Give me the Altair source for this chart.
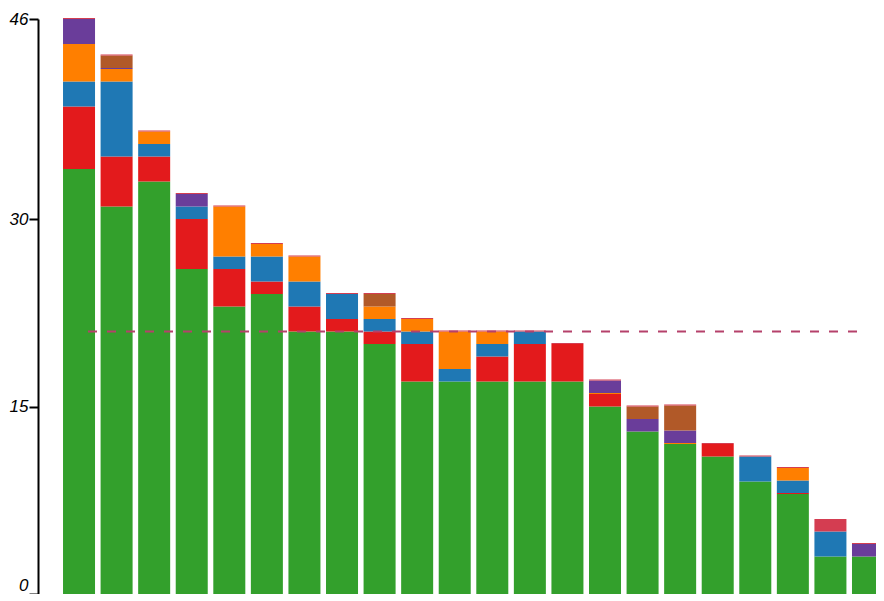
import altair as alt
import pandas as pd

categories = [str(i) for i in range(1, 23)]
series_names = ["green", "red", "blue", "orange", "purple", "brown", "crimson"]
series_colors = ["#33a02c", "#e31a1c", "#1f78b4", "#ff7f00", "#6a3d9a", "#b15928", "#d43d51"]

green = [34, 31, 33, 26, 23, 24, 21, 21, 20, 17, 17, 17, 17, 17, 15, 13, 12, 11, 9, 8, 3, 3]
red = [5, 4, 2, 4, 3, 1, 2, 1, 1, 3, 0, 2, 3, 3, 1, 0, 0, 1, 0, 0.08, 0, 0]
blue = [2, 6, 1, 1, 1, 2, 2, 2, 1, 1, 1, 1, 1, 0, 0, 0, 0, 0, 2, 1, 2, 0]
orange = [3, 1, 1, 0, 4, 1, 2, 0, 1, 1, 3, 1, 0, 0, 0.08, 0, 0.08, 0, 0, 1, 0, 0]
purple = [2, 0.08, 0, 1, 0, 0, 0, 0, 0, 0, 0, 0, 0, 0, 1, 1, 1, 0, 0, 0, 0, 1]
brown = [0, 1, 0, 0, 0, 0, 0, 0, 1, 0, 0, 0, 0, 0, 0, 1, 2, 0, 0, 0, 0, 0]
crimson = [0.08, 0.08, 0.08, 0.08, 0.08, 0.08, 0.08, 0.08, 0.08, 0.08, 0.08,
           0.08, 0.08, 0.08, 0.08, 0.08, 0.08, 0.08, 0.08, 0.08, 1, 0.08]

reference_value = [21]
y_ticks = [0, 15, 30, 46]

all_series = [green, red, blue, orange, purple, brown, crimson]
rows = []
for s_idx, (name, vals) in enumerate(zip(series_names, all_series)):
    for cat, v in zip(categories, vals):
        rows.append({"cat": cat, "series": name, "order": s_idx, "value": v})
df = pd.DataFrame(rows)

bars = alt.Chart(df).mark_bar().encode(
    x=alt.X("cat:N", sort=categories,
            scale=alt.Scale(paddingInner=0.148, paddingOuter=0.333, align=1,
                            range=[0, 846]),
            axis=None),
    y=alt.Y("value:Q", stack="zero",
            scale=alt.Scale(domain=[0, 46], nice=False),
            axis=alt.Axis(values=y_ticks, grid=False, title=None,
                          labelFont="Liberation Sans", labelFontSize=17,
                          labelFontStyle="italic", labelColor="black",
                          labelPadding=1, tickSize=9, tickWidth=2,
                          labelOffset=alt.expr("datum.value === 0 ? -9 : 0"),
                          tickColor="black", domainWidth=2, domainColor="black")),
    color=alt.Color("series:N", scale=alt.Scale(domain=series_names, range=series_colors),
                    legend=None),
    order=alt.Order("order:Q", sort="ascending"),
)

rule_df = pd.DataFrame({"median": reference_value})
rule = alt.Chart(rule_df).mark_rule(
    color="#b5416b", strokeWidth=2, strokeDash=[9, 10]
).encode(
    y="median:Q",
    x=alt.value(50),
    x2=alt.value(827),
)

chart = alt.layer(bars, rule).properties(
    width=838, height=575,
    autosize=alt.AutoSizeParams(type="none"),
    padding={"left": 30, "top": 11, "right": 0, "bottom": 0},
).configure_view(stroke=None)

chart.save("out.html", embed_options={"renderer": "svg", "actions": False})
